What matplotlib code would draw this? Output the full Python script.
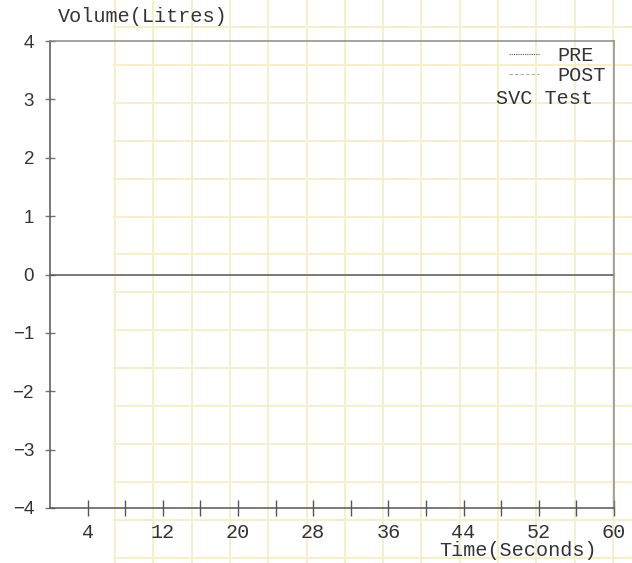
import numpy as np
import matplotlib
matplotlib.use("Agg")
from matplotlib import pyplot as plt

# spirometry SVC trace - the scan shows no visible curve, only the frame
pre_time = []
pre_volume = []
post_time = []
post_volume = []

x_ticks = [4, 12, 20, 28, 36, 44, 52, 60]
x_minor = [8, 16, 24, 32, 40, 48, 56]
y_ticks = [-4, -3, -2, -1, 0, 1, 2, 3, 4]

mono = "Liberation Mono"
W, H = 632, 563

fig = plt.figure(figsize=(W / 100, H / 100), dpi=100)
fig.patch.set_facecolor("white")

# the graph paper behind the print
bg = fig.add_axes([0, 0, 1, 1], zorder=-1)
bg.set_xlim(0, W)
bg.set_ylim(H, 0)
bg.axis("off")
bg.vlines(np.arange(115, W, 38.3), 0, H, color="#f6eecb", lw=1.4)
bg.hlines(np.arange(27, H, 37.9), 113, W, color="#f6eecb", lw=1.4)

ax = fig.add_axes([50 / W, 55 / H, 564 / W, 467 / H])
ax.patch.set_alpha(0)

ax.plot(pre_time, pre_volume, ls=(0, (1, 1)), color="#555555", lw=0.8, label="PRE")
ax.plot(post_time, post_volume, ls=(0, (3, 2)), color="#aaaaaa", lw=0.8, label="POST")
ax.axhline(0, color="#555555", lw=1.1)

ax.set_xlim(0, 60)
ax.set_ylim(-4, 4)
ax.set_xticks(x_ticks)
ax.set_xticks(x_minor, minor=True)
ax.set_yticks(y_ticks)
ax.set_xticklabels([str(v) for v in x_ticks], family=mono, fontsize=14.5, color="#333333")
ax.set_yticklabels([str(v).replace("-", "\u2212") for v in y_ticks],
                   family="Liberation Sans", fontsize=13.5, color="#333333")
ax.tick_params(axis="x", which="both", direction="inout", length=11, width=1, color="#555555", pad=5)
ax.tick_params(axis="y", direction="inout", length=7, width=1, color="#777777", pad=8)

for s in ["left", "bottom"]:
    ax.spines[s].set_color("#555555")
    ax.spines[s].set_linewidth(1.1)
for s in ["top", "right"]:
    ax.spines[s].set_color("#8a8a8a")
    ax.spines[s].set_linewidth(1.1)

leg = ax.legend(loc="upper right", bbox_to_anchor=(1.007, 1.015), frameon=False,
                prop={"family": mono, "size": 14.5}, handlelength=1.5,
                handletextpad=0.9, labelspacing=0.05, borderaxespad=0.2)
for t in leg.get_texts():
    t.set_color("#333333")

ax.text(0.963, 0.876, "SVC Test", transform=ax.transAxes, ha="right", va="center",
        family=mono, fontsize=14.5, color="#333333")

fig.text(58 / W, 1 - 17 / H, "Volume(Litres)", ha="left", va="center",
         family=mono, fontsize=14.5, color="#333333")
fig.text(597 / W, 1 - 550 / H, "Time(Seconds)", ha="right", va="center",
         family=mono, fontsize=14.5, color="#333333")

fig.savefig("out.png", dpi=100)
